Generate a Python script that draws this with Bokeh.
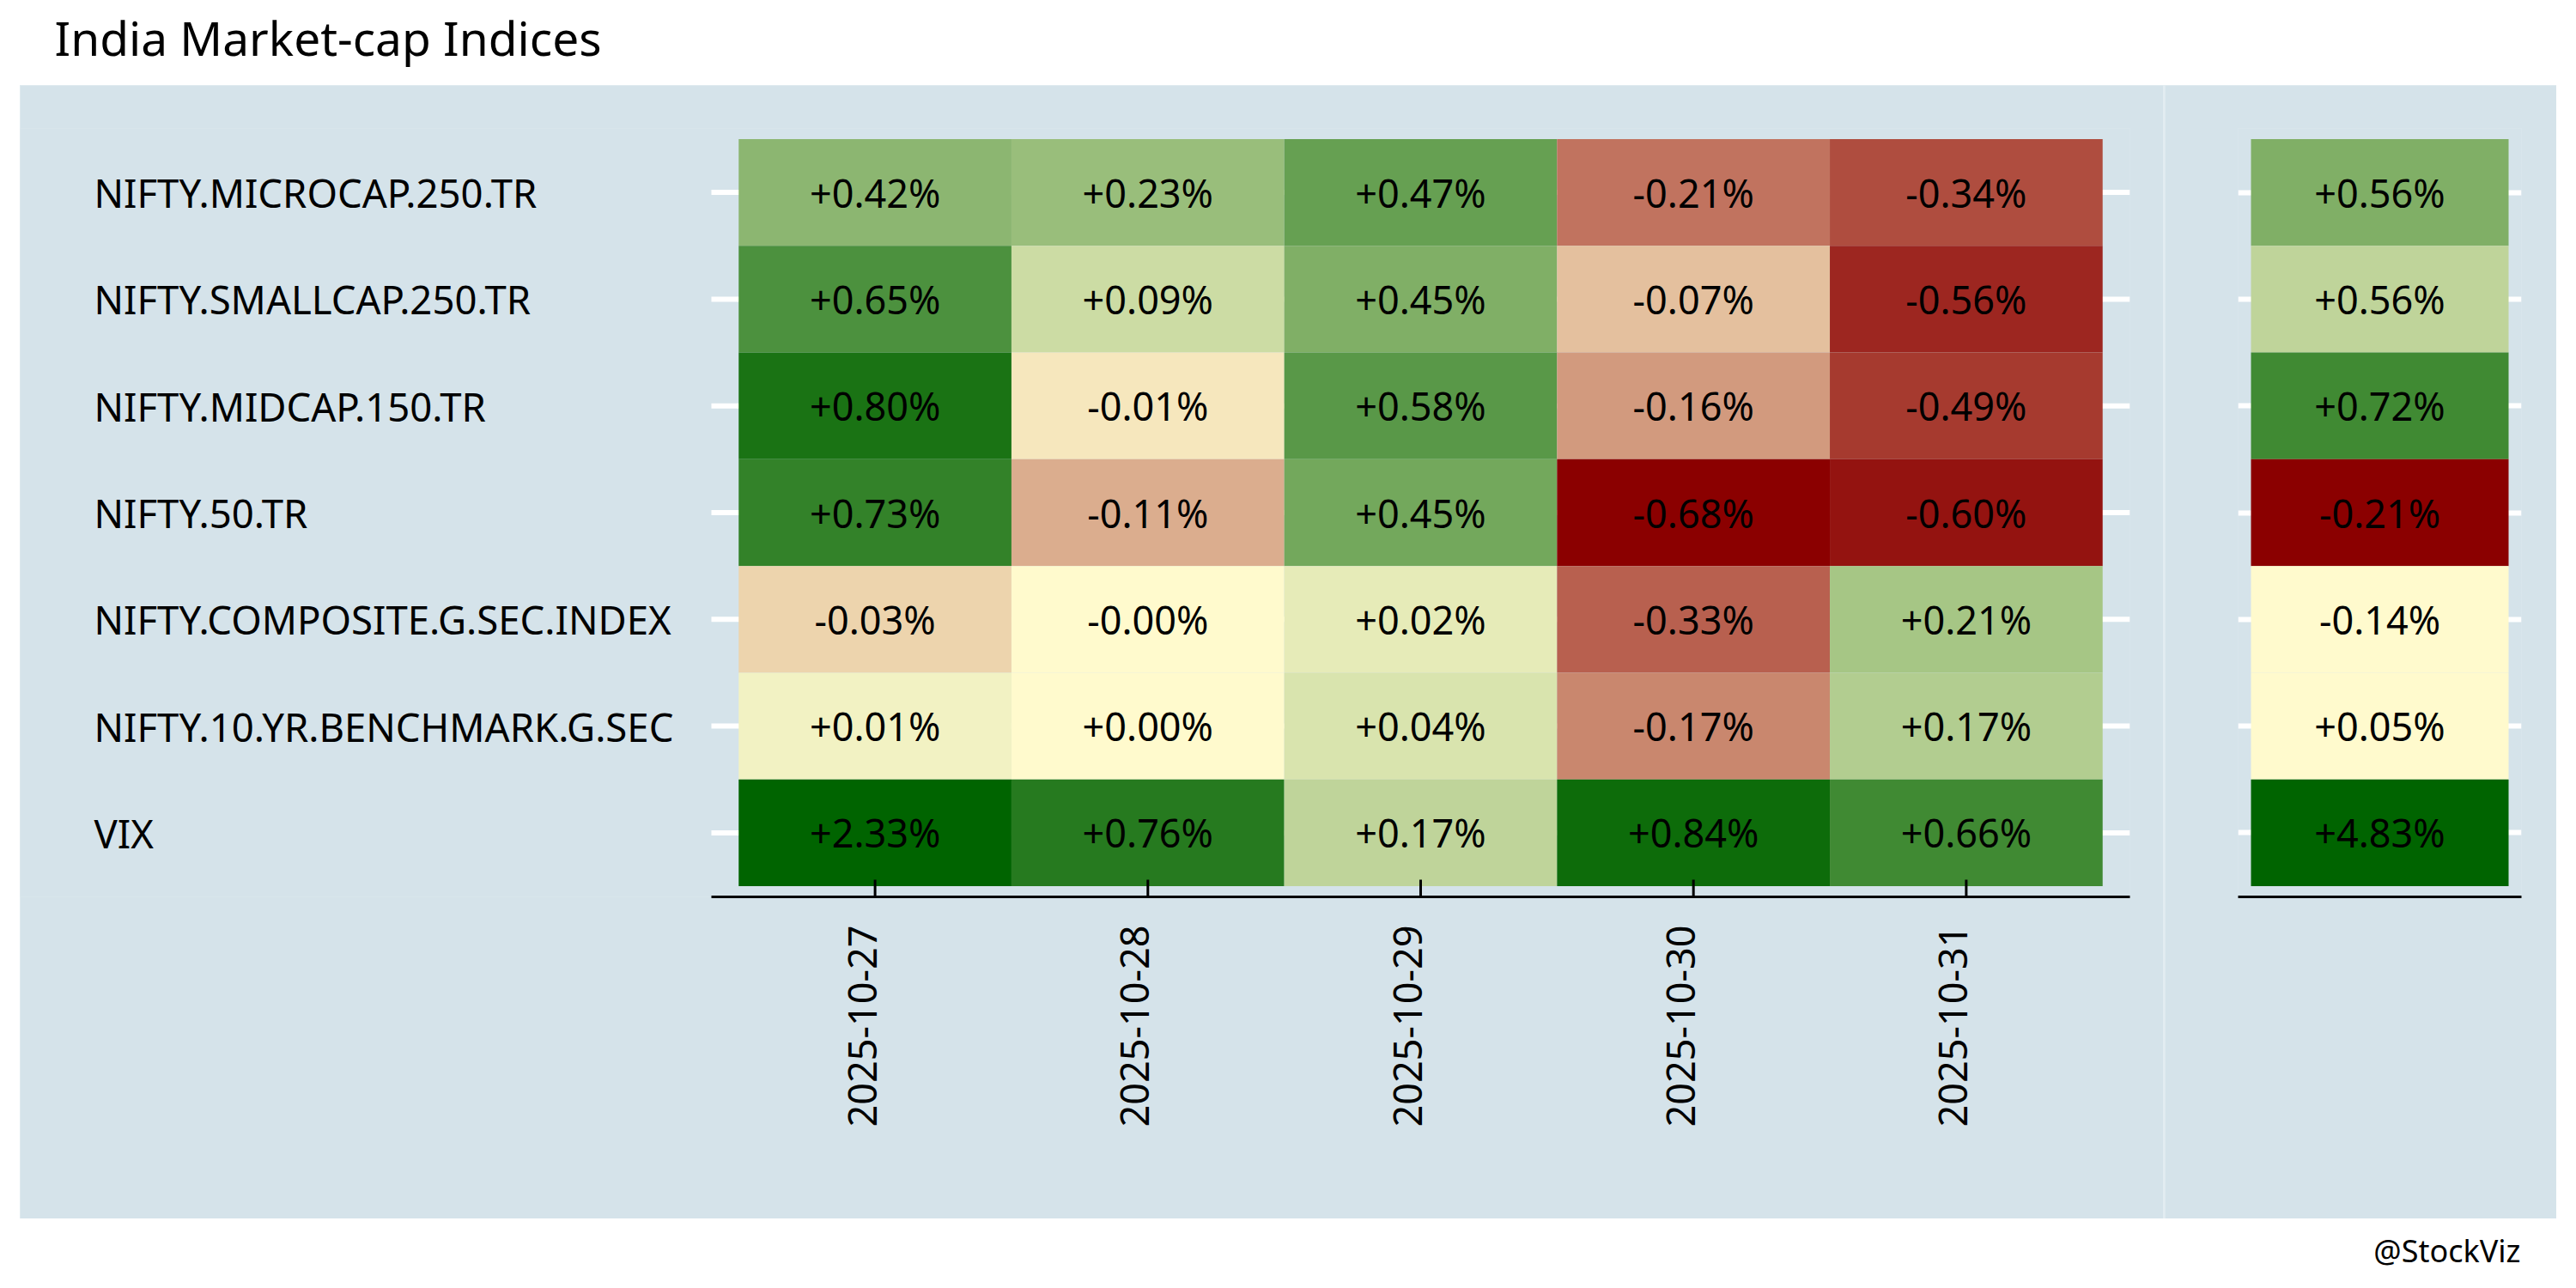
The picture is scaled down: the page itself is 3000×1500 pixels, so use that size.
import math
from bokeh.plotting import figure
from bokeh.layouts import row, column
from bokeh.models import Range1d, FixedTicker, ColumnDataSource, Spacer
from bokeh.core.properties import value
from bokeh.embed import file_html
from bokeh.resources import INLINE

# ---------------- data ----------------
indices = ["NIFTY.MICROCAP.250.TR", "NIFTY.SMALLCAP.250.TR", "NIFTY.MIDCAP.150.TR",
           "NIFTY.50.TR", "NIFTY.COMPOSITE.G.SEC.INDEX", "NIFTY.10.YR.BENCHMARK.G.SEC", "VIX"]
dates = ["2025-10-27", "2025-10-28", "2025-10-29", "2025-10-30", "2025-10-31"]
ret_microcap = [0.42, 0.23, 0.47, -0.21, -0.34]
ret_smallcap = [0.65, 0.09, 0.448, -0.07, -0.56]
ret_midcap = [0.80, -0.01, 0.58, -0.16, -0.49]
ret_nifty50 = [0.73, -0.11, 0.452, -0.68, -0.60]
ret_composite = [-0.03, -0.002, 0.02, -0.33, 0.21]
ret_10yr = [0.01, 0.001, 0.04, -0.17, 0.172]
ret_vix = [2.33, 0.76, 0.168, 0.84, 0.66]
cumulative = [0.564, 0.556, 0.72, -0.21, -0.14, 0.05, 4.83]
title_text = "India Market-cap Indices"
caption_text = "@StockViz"

daily = [ret_microcap, ret_smallcap, ret_midcap, ret_nifty50, ret_composite, ret_10yr, ret_vix]

# ---------------- style ----------------
PANEL = "#D5E3EA"
DIVIDER = "#E2ECF1"
LOW, MID, HIGH = "#8B0000", "#FFFACD", "#006400"
FONT = "Noto Sans"
CELL_FS = "45px"
LABEL_FS = "45.5px"
TICK_FS = "45px"

# ---------------- colour scale (rank within sign, RGB interpolation) ----------------
def hex2rgb(h):
    return [int(h[i:i + 2], 16) for i in (1, 3, 5)]

RGB_LOW, RGB_MID, RGB_HIGH = hex2rgb(LOW), hex2rgb(MID), hex2rgb(HIGH)

def mix(c1, c2, t):
    return "#%02X%02X%02X" % tuple(round(c1[i] + (c2[i] - c1[i]) * t) for i in range(3))

def rank_colors(vals):
    neg = sorted([v for v in vals if v < 0], key=abs)
    pos = sorted([v for v in vals if v >= 0])
    out = []
    for v in vals:
        if v < 0:
            t = neg.index(v) / max(1, len(neg) - 1)
            out.append(mix(RGB_MID, RGB_LOW, t))
        else:
            t = pos.index(v) / max(1, len(pos) - 1)
            out.append(mix(RGB_MID, RGB_HIGH, t))
    return out

def fmt(v):
    return f"{v:+.2f}%"

# ---------------- positions ----------------
nrow = len(indices)
ypos = [nrow - i for i in range(nrow)]
xpos = [j + 1 for j in range(len(dates))]

cx, cy, cv = [], [], []
for i, r in enumerate(daily):
    for j, v in enumerate(r):
        cx.append(xpos[j]); cy.append(ypos[i]); cv.append(v)
left_src = ColumnDataSource(dict(x=cx, y=cy, v=cv, color=rank_colors(cv), label=[fmt(v) for v in cv]))
right_src = ColumnDataSource(dict(x=[1] * nrow, y=ypos, v=cumulative,
                                  color=rank_colors(cumulative), label=[fmt(v) for v in cumulative]))

# ---------------- layout geometry ----------------
LEFT_MARGIN = 23
TITLE_H = 99
H_MID = 1320
CAP_H = 65
W_LEFT, W_RIGHT = 2496, 456
W_ALL = LEFT_MARGIN + W_LEFT + 2 + W_RIGHT
COL_W = 317.7
ROW_H = 124.4
X_PAD = 0.1
Y_PAD = 0.1
FRAME_LEFT_OFFSET = 805  # pixels from subplot left edge to heatmap start
x_end = len(dates) + 0.5 + X_PAD
x_start = 0.5 - X_PAD - FRAME_LEFT_OFFSET / COL_W
y_start, y_end = 0.5 - Y_PAD, nrow + 0.5 + Y_PAD
LABEL_X = x_start + 86 / COL_W
TICK_LEN = 20 / ROW_H             # inward tick length in data units
LABEL_SHIFT = 15 / COL_W          # rotated date labels sit slightly left of their tick

def base_fig(width, height, xr, yr, **kw):
    p = figure(width=width, height=height, x_range=xr, y_range=yr,
               output_backend="svg", toolbar_location=None,
               background_fill_color=PANEL, border_fill_color=PANEL,
               outline_line_color=None, y_axis_location=None, **kw)
    return p

# left heatmap
left = base_fig(W_LEFT, H_MID, Range1d(x_start, x_end), Range1d(y_start, y_end),
                min_border_left=0, min_border_right=39, min_border_top=50, min_border_bottom=375)
left.xgrid.visible = False
left.ygrid.visible = False
left.segment(x0=0.5 - X_PAD, x1=x_end, y0=ypos, y1=ypos, line_color="white", line_width=6)
left.rect(x="x", y="y", width=1, height=1, fill_color="color", line_color=None, source=left_src)
left.text(x="x", y="y", text="label", source=left_src, text_align="center", text_baseline="middle",
          text_font=value(FONT), text_font_size=CELL_FS, text_color="black")
left.text(x=[LABEL_X] * nrow, y=ypos, text=indices, text_align="left", text_baseline="middle",
          text_font=value(FONT), text_font_size=LABEL_FS, text_color="black")
# inward tick marks at each date column
left.segment(x0=xpos, x1=xpos, y0=[y_start] * len(xpos), y1=[y_start + TICK_LEN] * len(xpos),
             line_color="black", line_width=3)

label_ticks = [round(x - LABEL_SHIFT, 4) for x in xpos]
ax = left.xaxis[0]
ax.ticker = FixedTicker(ticks=label_ticks, minor_ticks=[])
ax.major_label_overrides = {t: d for t, d in zip(label_ticks, dates)}
ax.bounds = (0.5 - X_PAD, x_end)
ax.axis_line_color = "black"
ax.axis_line_width = 3
ax.major_tick_in = 0
ax.major_tick_out = 0
ax.major_tick_line_color = None
ax.minor_tick_line_color = None
ax.major_label_orientation = math.pi / 2
ax.major_label_standoff = 33
ax.major_label_text_font = FONT
ax.major_label_text_font_size = TICK_FS
ax.major_label_text_color = "black"

# right cumulative column
right = base_fig(W_RIGHT, H_MID, Range1d(0.45, 1.55), Range1d(y_start, y_end),
                 min_border_left=85, min_border_right=41, min_border_top=50, min_border_bottom=375)
right.xgrid.visible = False
right.ygrid.ticker = FixedTicker(ticks=ypos, minor_ticks=[])
right.ygrid.grid_line_color = "white"
right.ygrid.grid_line_width = 6
right.rect(x="x", y="y", width=1, height=1, fill_color="color", line_color=None, source=right_src)
right.text(x="x", y="y", text="label", source=right_src, text_align="center", text_baseline="middle",
           text_font=value(FONT), text_font_size=CELL_FS, text_color="black")
rax = right.xaxis[0]
rax.ticker = FixedTicker(ticks=[], minor_ticks=[])
rax.axis_line_color = "black"
rax.axis_line_width = 3
rax.major_tick_line_color = None
rax.minor_tick_line_color = None
rax.major_label_text_font_size = "0px"

# title and caption strips
def text_strip(width, height):
    p = figure(width=width, height=height, x_range=Range1d(0, width), y_range=Range1d(height, 0),
               output_backend="svg", toolbar_location=None, min_border=0,
               background_fill_color="white", border_fill_color="white", outline_line_color=None,
               x_axis_location=None, y_axis_location=None)
    p.grid.visible = False
    return p

title_fig = text_strip(W_ALL, TITLE_H)
title_fig.text(x=[63], y=[43], text=[title_text], text_align="left", text_baseline="middle",
               text_font=value(FONT), text_font_size="55px", text_color="black")

cap_fig = text_strip(W_ALL, CAP_H)
cap_fig.text(x=[2935], y=[37], text=[caption_text], text_align="right", text_baseline="middle",
             text_font=value(FONT), text_font_size="36px", text_color="black")

mid = row(left, right, spacing=2, styles={"background-color": DIVIDER})
body = row(Spacer(width=LEFT_MARGIN, height=H_MID), mid)
page = column(title_fig, body, cap_fig)

open("out.html", "w").write(file_html(page, INLINE))
